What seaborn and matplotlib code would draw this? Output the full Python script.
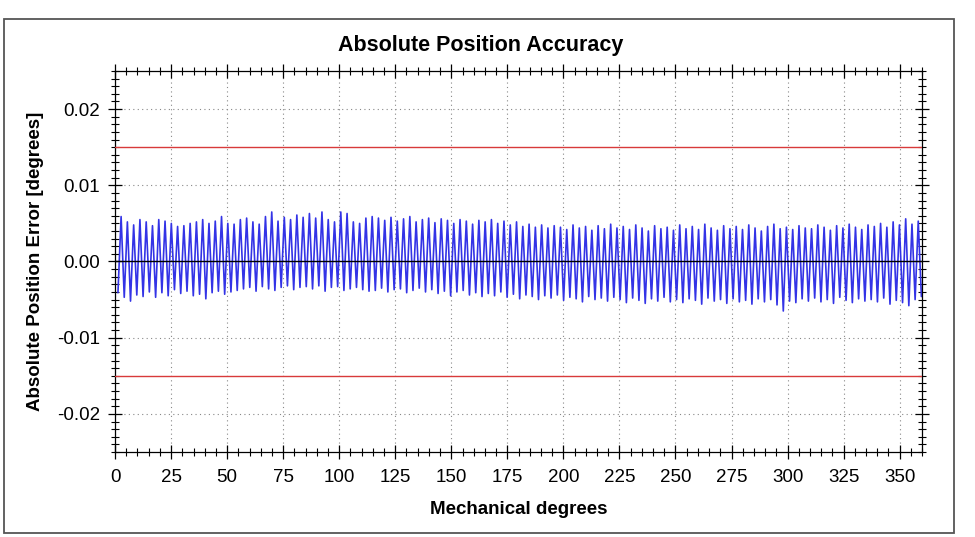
import numpy as np
import pandas as pd
import matplotlib
matplotlib.use("Agg")
import matplotlib.pyplot as plt
from matplotlib.patches import Rectangle
from matplotlib.ticker import MultipleLocator
import seaborn as sns

# ---- data (values in 1e-3 degrees) ----
FIRST_TROUGH_DEG = 1.3     # angle of first trough
CYCLE_DEG = 2.8            # angular period of the ripple

peaks = [
    5.9, 5.2, 4.8, 5.5, 5.2, 4.7, 5.5, 5.3, 5.0, 4.6,
    4.7, 5.0, 5.2, 5.5, 5.0, 5.3, 5.9, 5.0, 4.9, 5.5,
    5.7, 5.2, 4.9, 5.9, 6.5, 5.3, 5.8, 5.5, 6.1, 5.8,
    6.3, 5.7, 6.5, 5.5, 5.2, 6.5, 6.3, 5.2, 5.0, 5.7,
    5.9, 5.7, 5.4, 5.8, 5.3, 5.6, 5.9, 5.2, 5.5, 5.7,
    5.1, 5.6, 5.4, 5.0, 5.5, 5.3, 4.9, 5.4, 5.2, 5.5,
    5.0, 5.3, 4.8, 5.2, 4.6, 4.9, 4.5, 4.8, 4.4, 4.7,
    4.5, 4.2, 4.8, 4.4, 4.6, 4.1, 4.7, 4.3, 4.9, 4.4,
    4.6, 4.2, 4.8, 4.4, 4.0, 4.7, 4.3, 4.5, 4.1, 4.8,
    4.3, 4.6, 4.2, 4.9, 4.4, 4.1, 4.7, 4.3, 4.6, 4.2,
    4.8, 4.4, 4.0, 4.6, 4.9, 4.3, 4.5, 4.2, 4.7, 4.4,
    4.3, 4.8, 4.5, 4.1, 4.7, 4.4, 4.9, 4.5, 4.2, 4.8,
    4.6, 5.0, 4.5, 5.2, 4.8, 5.6, 4.9, 5.3,
]
troughs = [
    -4.1, -4.7, -5.2, -4.4, -4.6, -4.0, -4.7, -4.1, -4.5, -3.7,
    -4.2, -3.9, -4.5, -4.3, -4.9, -4.1, -3.9, -4.3, -4.0, -3.8,
    -3.6, -3.4, -3.9, -3.3, -3.6, -3.8, -3.4, -3.2, -3.7, -3.4,
    -3.3, -3.6, -3.2, -3.9, -3.4, -3.3, -3.8, -3.6, -3.4, -3.7,
    -3.9, -3.8, -3.5, -4.0, -3.7, -3.6, -4.1, -3.8, -3.5, -4.0,
    -3.7, -4.2, -3.9, -4.5, -4.0, -3.8, -4.4, -4.1, -4.6, -4.2,
    -4.5, -4.0, -4.7, -4.3, -4.9, -4.4, -4.6, -5.0, -4.5, -4.8,
    -4.4, -5.1, -4.7, -4.9, -5.3, -4.6, -5.0, -4.8, -5.2, -4.7,
    -5.0, -5.4, -4.8, -5.1, -5.5, -4.9, -5.2, -4.7, -5.3, -5.0,
    -5.4, -4.9, -5.1, -5.6, -4.8, -5.2, -5.0, -5.5, -4.9, -5.3,
    -5.1, -5.6, -4.9, -5.3, -5.0, -5.7, -6.5, -5.2, -5.4, -4.9,
    -5.2, -4.8, -5.3, -5.0, -5.5, -4.7, -5.1, -5.4, -4.9, -5.2,
    -5.0, -5.3, -4.8, -5.6, -5.1, -5.4, -5.8, -5.0, -4.6,
]
limit_lines = [0.015, -0.015]

x_ticks = [0, 25, 50, 75, 100, 125, 150, 175, 200, 225, 250, 275, 300, 325, 350]
y_ticks = [-0.02, -0.01, 0.00, 0.01, 0.02]
y_tick_labels = ["-0.02", "-0.01", "0.00", "0.01", "0.02"]

# ---- build the alternating trough/peak series ----
vals = []
for j, t in enumerate(troughs):
    vals.append(t)
    if j < len(peaks):
        vals.append(peaks[j])
vals = np.array(vals) * 1e-3
angles = FIRST_TROUGH_DEG + np.arange(len(vals)) * CYCLE_DEG / 2.0
df = pd.DataFrame({"deg": angles, "err": vals})

# ---- style ----
sns.set_theme(style="white")
plt.rcParams["font.family"] = ["Liberation Sans", "DejaVu Sans"]
plt.rcParams["text.color"] = "black"
plt.rcParams["axes.labelcolor"] = "black"
plt.rcParams["xtick.color"] = "black"
plt.rcParams["ytick.color"] = "black"

fig = plt.figure(figsize=(9.75, 5.37), dpi=100)
fig.patch.set_facecolor("white")
ax = fig.add_axes([0.118, 0.1583, 0.8277, 0.7095])

sns.lineplot(data=df, x="deg", y="err", ax=ax, color="#3333e6", lw=1.2,
             sort=False, estimator=None, zorder=2)

for yv in limit_lines:
    ax.axhline(yv, color="#d83a3a", lw=1.0, zorder=3)
ax.axhline(0.0, color="black", lw=1.0, zorder=4)

ax.set_xlim(0, 360)
ax.set_ylim(-0.025, 0.025)
ax.set_xticks(x_ticks)
ax.set_yticks(y_ticks)
ax.set_yticklabels(y_tick_labels)
ax.xaxis.set_minor_locator(MultipleLocator(5))
ax.yaxis.set_minor_locator(MultipleLocator(0.001))

ax.tick_params(which="major", direction="inout", length=10, width=0.9,
               color="black", labelcolor="black", labelsize=13.5, top=True,
               right=True, bottom=True, left=True, labeltop=False,
               labelright=False)
ax.tick_params(which="minor", direction="inout", length=6, width=0.8,
               color="black", top=True, right=True, bottom=True, left=True)
ax.tick_params(axis="x", pad=7)
ax.tick_params(axis="y", pad=6)

ax.grid(True, which="major", linestyle=(0, (1, 3)), color="#888888", lw=0.8)
for s in ax.spines.values():
    s.set_color("black")
    s.set_linewidth(0.9)

ax.set_xlabel("Mechanical degrees", fontsize=13.5, fontweight="bold",
              labelpad=11, color="black")
ax.set_ylabel("Absolute Position Error [degrees]", fontsize=13.5,
              fontweight="bold", labelpad=9, color="black")

fig.text(481 / 975, 1 - 45 / 537, "Absolute Position Accuracy",
         ha="center", va="center", fontsize=15.5, fontweight="bold",
         color="black")

fig.patches.append(Rectangle((4 / 975, 1 - 533 / 537), 950 / 975, 514 / 537,
                             transform=fig.transFigure, fill=False,
                             edgecolor="#555555", lw=1.3))

fig.savefig("out.png", dpi=100, facecolor="white")
